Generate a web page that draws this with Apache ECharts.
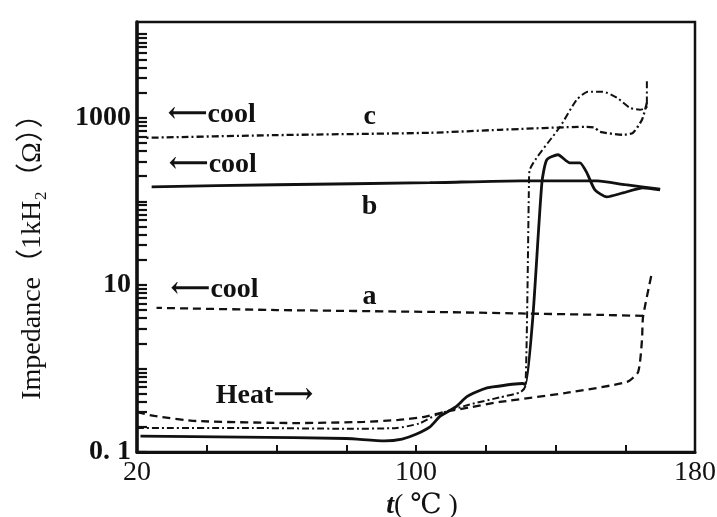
<!DOCTYPE html>
<html>
<head>
<meta charset="utf-8">
<script src="https://cdn.jsdelivr.net/npm/echarts@6/dist/echarts.min.js"></script>
<style>
  html, body { margin: 0; padding: 0; background: #fff; }
  #chart { width: 717px; height: 517px; }
</style>
</head>
<body>
<div id="chart"></div>
<script>
// values: [t (°C), impedance]
const aHeat = [[20, 0.30], [25, 0.27], [37, 0.235], [66, 0.222], [85, 0.229], [95, 0.242], [102, 0.262],
  [108, 0.30], [115, 0.34], [124, 0.397], [143, 0.509], [160.5, 0.689], [163.7, 0.908], [164.8, 2.19],
  [165.1, 4.14], [167.7, 14.3]]
const aCool = [[165.1, 4.26], [152.7, 4.38], [130, 4.55], [104, 4.75], [60, 5.0], [25.6, 5.31]]

const bHeat = [[21, 0.155], [50, 0.151], [80, 0.145], [91, 0.136], [96, 0.143], [100, 0.163], [104, 0.2],
  [107, 0.27], [111.4, 0.346], [114.6, 0.46], [119, 0.56], [122, 0.6], [130.6, 0.66], [131.4, 0.64],
  [133.5, 4.1], [136.1, 167], [137.5, 314], [140.7, 361], [144.1, 289], [147, 289], [149, 219],
  [151.3, 137], [154.7, 113], [159.3, 126], [165.1, 145], [170, 137]]
const bCool = [[170, 140], [160, 158], [152, 176], [130, 176], [104, 167], [60, 158], [24.2, 149]]

const cHeat = [[20, 0.194], [50, 0.194], [80, 0.19], [94.5, 0.194], [101, 0.22], [106, 0.28], [115.4, 0.37],
  [124, 0.45], [130, 0.52], [131.4, 0.62], [132.4, 167], [132.6, 238], [141.3, 780], [146.1, 1644],
  [149.3, 2049], [153.6, 2049], [157.6, 1738], [161.3, 1318], [164.2, 1247], [166.2, 1355], [166.2, 2851]]
const cCool = [[166.2, 1514], [164.8, 946], [162.2, 661], [159.3, 626], [152.7, 680], [151.3, 759],
  [149, 780], [124, 718], [104, 661], [60, 620], [22.7, 576]]

const notes = [
  { name: '⟵cool', value: [41.4, 1086] },
  { name: 'c', value: [86.7, 1028] },
  { name: '⟵cool', value: [41.7, 274] },
  { name: 'b', value: [86.7, 86] },
  { name: '⟵cool', value: [42.2, 8.7] },
  { name: 'a', value: [86.7, 7.2] },
  { name: 'Heat⟶', value: [56.6, 0.469] },
]

const xLabels = [20, 100, 180]
const yLabels = { 0.1: '0. 1', 10: '10', 1000: '1000' }
const decades = [0.1, 1, 10, 100, 1000, 10000]

// 1..9 inside each decade, for the log ticks
const tickValues = []
decades.forEach((d) => {
  for (let k = 1; k <= 9; k++) if (d * k <= 14000) tickValues.push(+(d * k).toPrecision(3))
})

const font = "'Liberation Serif', 'DejaVu Serif', 'Noto Sans CJK SC', serif"

function line(data, dash, width) {
  return {
    type: 'line', data, showSymbol: false, smooth: 0.2, z: 3,
    lineStyle: { color: '#111', width: width || 2.3, type: dash },
  }
}

const chart = echarts.init(document.getElementById('chart'))
chart.setOption({
  animation: false,
  grid: {
    left: 137, right: 22, top: 22, bottom: 65, outerBoundsMode: 'none', containLabel: false,
    show: true, borderColor: '#111', borderWidth: 2.5,
  },
  xAxis: {
    type: 'value', min: 20, max: 180, interval: 20,
    name: '{i|t}( ℃ )', nameLocation: 'middle', nameGap: 40,
    nameTextStyle: {
      fontFamily: font, fontSize: 28, color: '#111', padding: [0, 0, 0, 12],
      rich: { i: { fontStyle: 'italic', fontFamily: font, fontSize: 28, fontWeight: 'bold' } },
    },
    axisLine: { lineStyle: { color: '#111', width: 3 } },
    axisTick: { inside: true, length: 7, lineStyle: { color: '#111', width: 2 } },
    axisLabel: {
      fontFamily: font, fontSize: 28, color: '#111', margin: 7,
      formatter: (v) => (xLabels.includes(v) ? String(v) : ''),
    },
    splitLine: { show: false },
  },
  yAxis: {
    type: 'log', min: 0.1, max: 14000, logBase: 10,
    name: 'Impedance（1kH₂（Ω））', nameLocation: 'middle', nameGap: 90,
    nameTextStyle: { fontFamily: font, fontSize: 28, color: '#111', padding: [0, 0, 0, -26] },
    axisLine: { lineStyle: { color: '#111', width: 3.5 } },
    axisTick: { inside: true, length: 10, customValues: tickValues, lineStyle: { color: '#111', width: 2.2 } },
    axisLabel: {
      fontFamily: font, fontSize: 28, fontWeight: 'bold', color: '#111', margin: 6,
      formatter: (v) => yLabels[v] || '',
    },
    splitLine: { show: false },
  },
  series: [
    line(aHeat, [8, 5]),
    line(aCool, [8, 5]),
    line(bHeat, 'solid', 2.8),
    line(bCool, 'solid', 2.8),
    line(cHeat, [7, 3, 2, 3], 2),
    line(cCool, [7, 3, 2, 3], 2.3),
    {
      type: 'scatter', data: notes, symbolSize: 0, z: 5,
      itemStyle: { opacity: 1 },
      label: {
        show: true, position: 'inside', formatter: '{b}',
        fontFamily: font, fontSize: 28, fontWeight: 'bold', color: '#111', textBorderWidth: 0,
      },
    },
  ],
})
</script>
</body>
</html>
